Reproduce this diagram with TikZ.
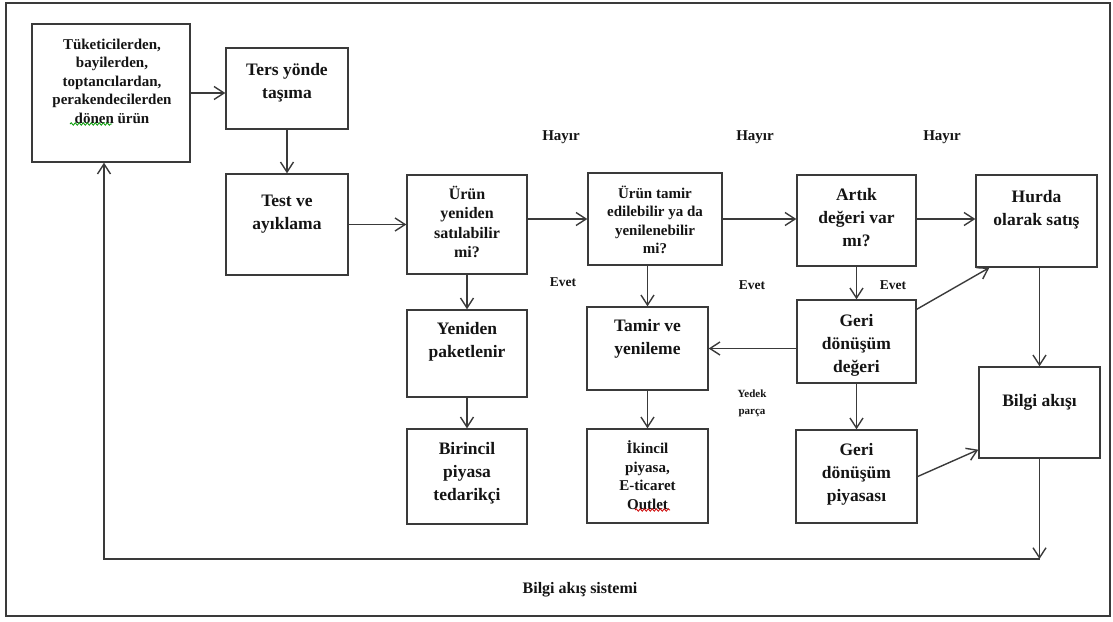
\documentclass[tikz,border=0pt]{standalone}
\usepackage{fontspec}
\setmainfont{Liberation Serif}
\usetikzlibrary{arrows.meta,calc,decorations.pathmorphing}
\definecolor{lncol}{HTML}{3A3A3A}
\definecolor{txtcol}{HTML}{141414}
\begin{document}
\begin{tikzpicture}[x=1pt,y=-1pt,
  box/.style={draw=lncol, line width=1.4pt, inner sep=0pt},
  big/.style={font=\bfseries\fontsize{17.5}{23}\selectfont, align=center, text=txtcol, inner sep=0pt},
  mid/.style={font=\bfseries\fontsize{16}{19.5}\selectfont, align=center, text=txtcol, inner sep=0pt},
  small/.style={font=\bfseries\fontsize{15}{18.5}\selectfont, align=center, text=txtcol, inner sep=0pt},
  lbl/.style={font=\bfseries\fontsize{15}{18}\selectfont, text=txtcol, inner sep=0pt},
  lblb/.style={font=\bfseries\fontsize{16}{18}\selectfont, text=txtcol, inner sep=0pt},
  lbls/.style={font=\bfseries\fontsize{13.5}{16}\selectfont, text=txtcol, inner sep=0pt},
  lblxs/.style={font=\bfseries\fontsize{11}{17}\selectfont, align=center, text=txtcol, inner sep=0pt},
  arr/.style={draw=lncol, line width=1.4pt, -{Straight Barb[length=10pt,width=13pt]}},
  ln/.style={draw=lncol, line width=1.4pt},
  squig/.style={line width=0.8pt, decorate, decoration={snake, amplitude=1.2pt, segment length=4pt}}
]
\useasboundingbox (0,0) rectangle (1113,621);
\draw[ln, line width=1.2pt] (6,3) rectangle (1110,616);

% boxes
\node[box, minimum width=158pt, minimum height=138pt] (b1) at (111,93) {};
\node[box, minimum width=122pt, minimum height=81pt] (b2) at (287,88.5) {};
\node[box, minimum width=122pt, minimum height=101pt] (b3) at (287,224.5) {};
\node[box, minimum width=120pt, minimum height=99pt] (b4) at (467,224.5) {};
\node[box, minimum width=134pt, minimum height=92pt] (b5) at (655,219) {};
\node[box, minimum width=119pt, minimum height=91pt] (b6) at (856.5,220.5) {};
\node[box, minimum width=121pt, minimum height=92pt] (b7) at (1036.5,221) {};
\node[box, minimum width=120pt, minimum height=87pt] (b8) at (467,353.5) {};
\node[box, minimum width=121pt, minimum height=83pt] (b9) at (647.5,348.5) {};
\node[box, minimum width=119pt, minimum height=83pt] (b10) at (856.5,341.5) {};
\node[box, minimum width=121pt, minimum height=91pt] (b11) at (1039.5,412.5) {};
\node[box, minimum width=120pt, minimum height=95pt] (b12) at (467,476.5) {};
\node[box, minimum width=121pt, minimum height=94pt] (b13) at (647.5,476) {};
\node[box, minimum width=121pt, minimum height=93pt] (b14) at (856.5,476.5) {};

% texts
\node[small] (t1) at (112,81) {Tüketicilerden,\\bayilerden,\\toptancılardan,\\perakendecilerden\\dönen ürün};
\node[big] (t2) at (287,83) {Ters yönde\\taşıma};
\node[big] (t3) at (287,214) {Test ve\\ayıklama};
\node[mid] (t4) at (467,222) {Ürün\\yeniden\\satılabilir\\mi?};
\node[small] (t5) at (655,220) {Ürün tamir\\edilebilir ya da\\yenilenebilir\\mi?};
\node[big] (t6) at (856.5,218) {Artık\\değeri var\\mı?};
\node[big] (t7) at (1036.5,210) {Hurda\\olarak satış};
\node[big] (t8) at (467,342) {Yeniden\\paketlenir};
\node[big] (t9) at (647.5,339) {Tamir ve\\yenileme};
\node[big] (t10) at (856.5,345) {Geri\\dönüşüm\\değeri};
\node[big] (t11) at (1039.5,402) {Bilgi akışı};
\node[big] (t12) at (467,473) {Birincil\\piyasa\\tedarikçi};
\node[small] (t13) at (647.5,475) {İkincil\\piyasa,\\E-ticaret\\Outlet};
\node[big] (t14) at (856.5,474) {Geri\\dönüşüm\\piyasası};

% spell-check squiggles
\draw[squig, green!60!black] (70,124) -- (112,124);
\draw[squig, red!80!black] (635,510) -- (670,510);

% labels
\node[lbl] (h1) at (561,137) {Hayır};
\node[lbl] (h2) at (755,137) {Hayır};
\node[lbl] (h3) at (942,137) {Hayır};
\node[lbls] (e1) at (563,282) {Evet};
\node[lbls] (e2) at (752,285) {Evet};
\node[lbls] (e3) at (893,285) {Evet};
\node[lblxs] (yp) at (752,403) {Yedek\\parça};
\node[lblb] (bas) at (580,590) {Bilgi akış sistemi};

% connectors
\draw[arr] (b1.east) -- (b1.east -| b2.west);
\draw[arr] (b2.south) -- (b3.north);
\draw[arr] (b3.east) -- (b3.east -| b4.west);
\draw[arr] (b4.east |- b5.west) -- (b5.west);
\draw[arr] (b5.east) -- (b5.east -| b6.west);
\draw[arr] (b6.east |- b5.east) -- (b7.west |- b5.east);
\draw[arr] (b4.south) -- (b8.north);
\draw[arr] (b8.south) -- (b12.north);
\draw[arr] (b9.north |- b5.south) -- (b9.north);
\draw[arr] (b9.south) -- (b13.north);
\draw[arr] (b6.south) -- (b10.north);
\draw[arr] (b10.south) -- (b14.north);
\draw[arr] (b10.west |- b9.east) -- (b9.east);
\draw[arr] ($(b10.north east)+(0,10)$) -- ($(b7.south west)+(14,0)$);
\draw[arr] (b14.east) -- ($(b11.south west)+(0,-9)$);
\draw[arr] (b11.north |- b7.south) -- (b11.north);
\coordinate (yb) at (0,559);
\coordinate (cr) at (b11.south |- yb);
\coordinate (cl) at (104,559);
\draw[arr] (b11.south) -- (cr);
\draw[arr] (cr) -- (cl) -- (cl |- b1.south);
\end{tikzpicture}
\end{document}
